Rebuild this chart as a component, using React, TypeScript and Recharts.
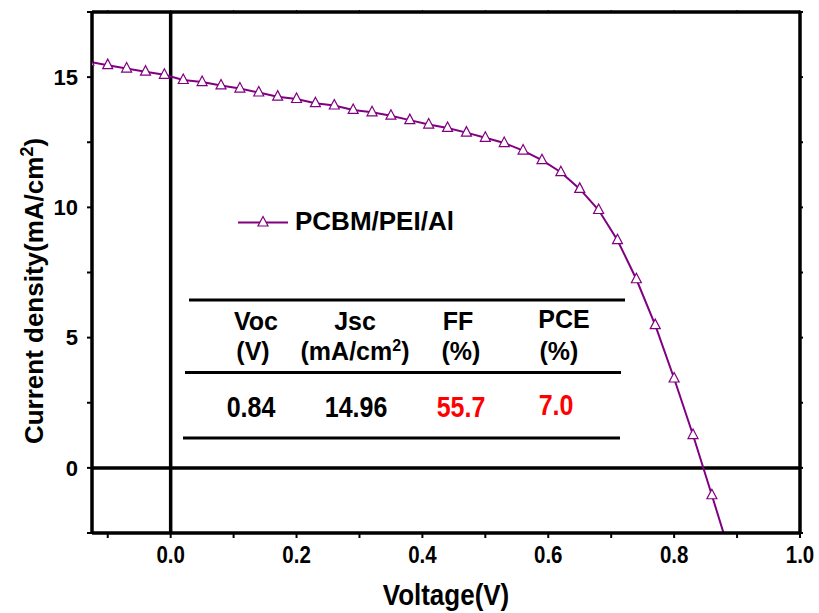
import { LineChart, Line, XAxis, YAxis, ReferenceLine } from 'recharts';

// J-V curve
const voltage = [-0.13, -0.1, -0.07, -0.04, -0.01, 0.02, 0.05, 0.08, 0.11, 0.14, 0.17, 0.2, 0.23, 0.26, 0.29, 0.32, 0.35, 0.38, 0.41, 0.44, 0.47, 0.5, 0.53, 0.56, 0.59, 0.62, 0.65, 0.68, 0.71, 0.74, 0.77, 0.8, 0.83, 0.86, 0.89];
const current = [15.59, 15.46, 15.33, 15.21, 15.09, 14.89, 14.81, 14.68, 14.56, 14.41, 14.25, 14.16, 14.0, 13.91, 13.74, 13.65, 13.52, 13.35, 13.18, 13.05, 12.87, 12.67, 12.47, 12.18, 11.81, 11.35, 10.71, 9.9, 8.74, 7.24, 5.48, 3.43, 1.26, -1.05, -3.4];

const xTicks = [-0.1, 0, 0.1, 0.2, 0.3, 0.4, 0.5, 0.6, 0.7, 0.8, 0.9, 1.0];
const yTicks = [-2.5, 0, 2.5, 5, 7.5, 10, 12.5, 15, 17.5];

const seriesName = 'PCBM/PEI/Al';
const headers = ['Voc', 'Jsc', 'FF', 'PCE'];
const units = ['(V)', '(mA/cm', '(%)', '(%)'];
const values = ['0.84', '14.96', '55.7', '7.0'];

const data = voltage.map((v, i) => ({ v, j: current[i] }));

const PURPLE = '#800080';
const FONT = '"Liberation Sans", Arial, sans-serif';

const fmtY = (v: number) => (v % 5 === 0 ? String(v) : '');
const blank = () => '';

const Tri = (props: any) => {
  const { cx, cy, index } = props;
  if (cx == null || cy == null) return null;
  return (
    <polygon
      key={`tri-${index}`}
      points={`${cx},${cy - 6} ${cx - 5},${cy + 3.5} ${cx + 5},${cy + 3.5}`}
      fill="#fff"
      stroke={PURPLE}
      strokeWidth={1.2}
    />
  );
};

// x tick labels look a bit taller than wide in the original
const XTick = (props: any) => {
  const { x, y, payload } = props;
  const v = payload.value;
  const label = Math.abs(Math.round(v * 10)) % 2 === 0 ? v.toFixed(1) : '';
  if (!label) return null;
  return (
    <g transform={`translate(${x},${y})`}>
      <text textAnchor="middle" dy="0.71em" fontSize={20.5} fontWeight="bold" fill="#000" fontFamily={FONT} transform="scale(1,1.2)">
        {label}
      </text>
    </g>
  );
};

// stretched text helper for the taller labels
const Tall = ({ x, y, sy, children, ...rest }: any) => (
  <g transform={`translate(${x},${y})`}>
    <text x={0} y={0} transform={`scale(1,${sy})`} textAnchor="middle" {...rest}>{children}</text>
  </g>
);

const axisLine = { stroke: '#000', strokeWidth: 3.5 };
const tickLine = { stroke: '#000', strokeWidth: 2 };
const tickFont = { fontSize: 22, fontWeight: 'bold', fill: '#000', fontFamily: FONT };

export default function App() {
  const hx = [256, 355, 458, 564];
  const ux = [253, 355, 461, 559];
  const vx = [251, 356, 461, 556];
  return (
    <div style={{ position: 'absolute', left: 0, top: 0, width: 819, height: 613, background: '#fff' }}>
      <LineChart width={819} height={613} data={data} margin={{ top: 0, right: 0, bottom: 0, left: 0 }}>
        <XAxis
          xAxisId="b"
          type="number"
          dataKey="v"
          domain={[-0.125, 1]}
          ticks={xTicks}
          allowDataOverflow
          height={80}
          axisLine={axisLine}
          tickLine={tickLine}
          tickSize={5}
          tickMargin={8}
          tick={<XTick />}
          interval={0}
        />
        <XAxis
          xAxisId="t"
          orientation="top"
          type="number"
          dataKey="v"
          domain={[-0.125, 1]}
          ticks={xTicks}
          allowDataOverflow
          height={12}
          tickFormatter={blank}
          axisLine={axisLine}
          tickLine={{ stroke: '#000', strokeWidth: 1 }}
          tickSize={2}
          interval={0}
        />
        <YAxis
          yAxisId="l"
          type="number"
          domain={[-2.5, 17.5]}
          ticks={yTicks}
          allowDataOverflow
          width={92}
          tickFormatter={fmtY}
          axisLine={axisLine}
          tickLine={tickLine}
          tickSize={5}
          tickMargin={9}
          tick={tickFont}
          interval={0}
        />
        <YAxis
          yAxisId="r"
          orientation="right"
          type="number"
          domain={[-2.5, 17.5]}
          ticks={yTicks}
          allowDataOverflow
          width={19}
          tickFormatter={blank}
          axisLine={axisLine}
          tickLine={tickLine}
          tickSize={3}
          interval={0}
        />
        <ReferenceLine xAxisId="b" yAxisId="l" x={0} stroke="#000" strokeWidth={3.5} />
        <ReferenceLine xAxisId="b" yAxisId="l" y={0} stroke="#000" strokeWidth={3.5} />
        <Line
          xAxisId="b"
          yAxisId="l"
          type="linear"
          dataKey="j"
          name={seriesName}
          stroke={PURPLE}
          strokeWidth={2}
          dot={Tri}
          activeDot={false}
          isAnimationActive={false}
        />
      </LineChart>

      <svg
        width={819}
        height={613}
        style={{ position: 'absolute', left: 0, top: 0, pointerEvents: 'none' }}
        fontFamily={FONT}
        fontWeight="bold"
      >
        {/* legend */}
        <line x1={238} y1={222.5} x2={288} y2={222.5} stroke={PURPLE} strokeWidth={2} />
        <Tri cx={263} cy={222.5} index="legend" />
        <text x={295} y={229.5} fontSize={26} fill="#000">{seriesName}</text>

        {/* parameter table */}
        <line x1={189} y1={300} x2={625} y2={300} stroke="#000" strokeWidth={3} />
        <line x1={185} y1={372.5} x2={621} y2={372.5} stroke="#000" strokeWidth={3} />
        <line x1={183} y1={438} x2={620} y2={438} stroke="#000" strokeWidth={3} />
        {headers.map((h, i) => (
          <text key={h} x={hx[i]} y={i === 3 ? 328 : 330} fontSize={25} textAnchor="middle" fill="#000">{h}</text>
        ))}
        {units.map((u, i) => (
          <text key={`u${i}`} x={ux[i]} y={360} fontSize={25} textAnchor="middle" fill="#000">
            {i === 1 ? (
              <>
                {u}
                <tspan dy={-9} fontSize={16}>2</tspan>
                <tspan dy={9}>)</tspan>
              </>
            ) : u}
          </text>
        ))}
        {values.map((v, i) => (
          <Tall key={`v${i}`} x={vx[i]} y={i === 3 ? 415 : 417} sy={1.15} fontSize={25} fill={i >= 2 ? '#ff0000' : '#000'}>{v}</Tall>
        ))}

        {/* axis titles */}
        <Tall x={446} y={605} sy={1.15} fontSize={26} fill="#000">Voltage(V)</Tall>
        <text x={43} y={291} fontSize={26} textAnchor="middle" fill="#000" transform="rotate(-90, 43, 291)">
          Current density(mA/cm
          <tspan dy={-10} fontSize={18}>2</tspan>
          <tspan dy={10}>)</tspan>
        </text>
      </svg>
    </div>
  );
}
